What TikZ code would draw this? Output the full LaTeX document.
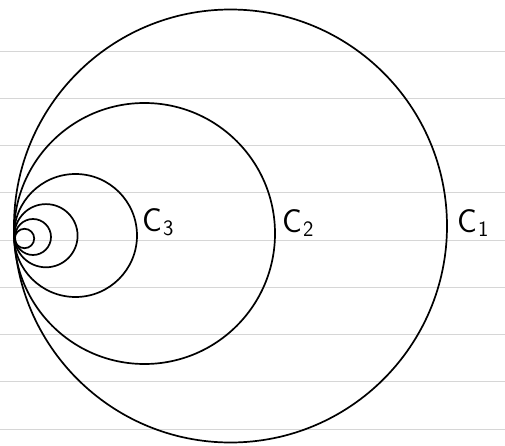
\documentclass[tikz,border=0pt]{standalone}
\usepackage{tikz}
\usetikzlibrary{positioning}
\newcommand{\circname}[1]{C\kern1pt\raisebox{-4pt}{\fontsize{22}{24}\selectfont #1}}
\tikzset{
  ruled/.style={draw=black!16, line width=0.9pt},
  circ/.style={draw=black, line width=1.7pt},
  lbl/.style={anchor=base west, inner sep=0pt, font=\sffamily\fontsize{33}{36}\selectfont}
}

\begin{document}
\begin{tikzpicture}[x=1pt,y=1pt]
\useasboundingbox (0,0) rectangle (505,445);
% notebook lines
\foreach \yy in {51,98.25,145.5,192.75,240,287.25,334.5,381.75,429}
  \draw[ruled] (0,445-\yy) -- (505,445-\yy);
% nested circles, all touching at the left
\draw[circ] (230.5,219) circle (216.5);
\draw[circ] (144.5,211.5) circle (130.5);
\draw[circ] (75.5,209.5) circle (61.5);
\draw[circ] (46,209.3) circle (31.6);
\draw[circ] (33,208) circle (18);
\draw[circ] (24.5,206.5) circle (9.7);
\node[lbl] (c1) at (457,213) {\circname{1}};
\node[lbl] (c2) at (282,213) {\circname{2}};
\node[lbl] (c3) at (142,214) {\circname{3}};
\end{tikzpicture}
\end{document}
